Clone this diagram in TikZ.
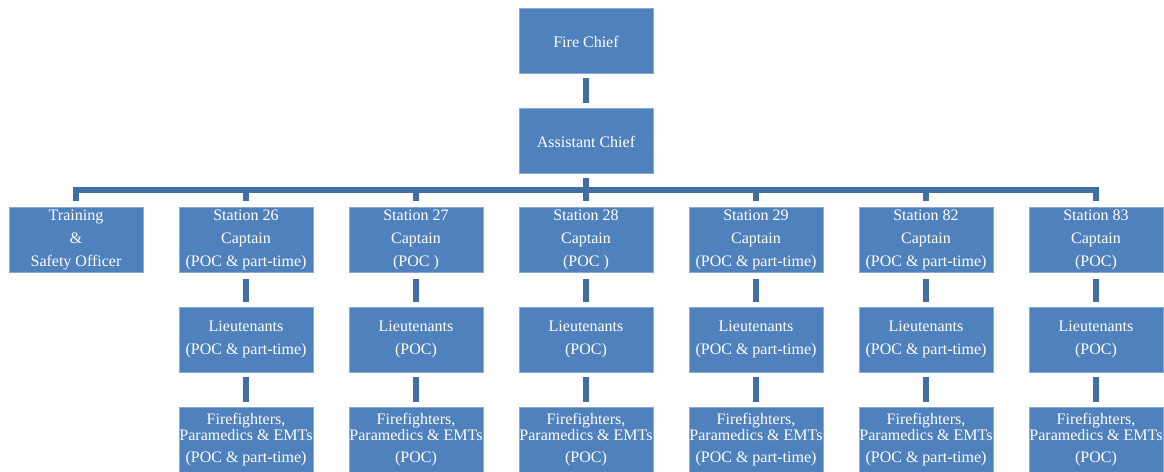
\documentclass[tikz,border=0pt]{standalone}
\usepackage{fontspec}
\setmainfont{Liberation Serif}
\definecolor{boxblue}{HTML}{4F81BD}
\definecolor{boxedge}{HTML}{8AABD6}
\definecolor{linkblue}{HTML}{416FA3}
\begin{document}
\begin{tikzpicture}[x=1pt,y=-1pt,
  orgbox/.style={rectangle, fill=boxblue, draw=boxedge, line width=0.6pt,
    minimum width=134pt, minimum height=65pt, inner sep=0pt, text=white,
    align=center, font=\fontsize{16}{23}\selectfont,
    execute at begin node={\rule{0pt}{14.5pt}}},
  link/.style={draw=linkblue, line width=5.5pt},
  crew/.style={orgbox}]
\useasboundingbox (0,0) rectangle (1164,471);
\clip (0,0) rectangle (1164,471);

% command staff
\node[orgbox] (fc) at (586,40.5) {Fire Chief};
\node[orgbox] (ac) at (586,140.5) {Assistant Chief};

% first tier
\node[orgbox] (tso) at (76,240) {Training\\ \&\\ Safety Officer};
\node[orgbox] (s26) at (246,240) {Station 26\\ Captain\\ (POC \& part-time)};
\node[orgbox] (s27) at (416,240) {Station 27\\ Captain\\ (POC )};
\node[orgbox] (s28) at (586,240) {Station 28\\ Captain\\ (POC )};
\node[orgbox] (s29) at (756,240) {Station 29\\ Captain\\ (POC \& part-time)};
\node[orgbox] (s82) at (926,240) {Station 82\\ Captain\\ (POC \& part-time)};
\node[orgbox] (s83) at (1096,240) {Station 83\\ Captain\\ (POC)};

% lieutenants
\node[orgbox] (l26) at (246,339.5) {Lieutenants\\ (POC \& part-time)};
\node[orgbox] (l27) at (416,339.5) {Lieutenants\\ (POC)};
\node[orgbox] (l28) at (586,339.5) {Lieutenants\\ (POC)};
\node[orgbox] (l29) at (756,339.5) {Lieutenants\\ (POC \& part-time)};
\node[orgbox] (l82) at (926,339.5) {Lieutenants\\ (POC \& part-time)};
\node[orgbox] (l83) at (1096,339.5) {Lieutenants\\ (POC)};

% firefighters
\node[crew] (f26) at (246,439.5) {Firefighters,\\[-7pt] Paramedics \& EMTs\\[-1pt] (POC \& part-time)};
\node[crew] (f27) at (416,439.5) {Firefighters,\\[-7pt] Paramedics \& EMTs\\[-1pt] (POC)};
\node[crew] (f28) at (586,439.5) {Firefighters,\\[-7pt] Paramedics \& EMTs\\[-1pt] (POC)};
\node[crew] (f29) at (756,439.5) {Firefighters,\\[-7pt] Paramedics \& EMTs\\[-1pt] (POC \& part-time)};
\node[crew] (f82) at (926,439.5) {Firefighters,\\[-7pt] Paramedics \& EMTs\\[-1pt] (POC \& part-time)};
\node[crew] (f83) at (1096,439.5) {Firefighters,\\[-7pt] Paramedics \& EMTs\\[-1pt] (POC)};

% connectors
\coordinate (bar) at (586,190);
\draw[link, shorten <=5pt, shorten >=5pt] (fc) -- (ac);
\draw[link, shorten <=5pt] (ac) -- (bar);
\draw[link, line join=miter, shorten <=6pt, shorten >=6pt] (tso.north) |- (bar) -| (s83.north);
\foreach \n in {s26,s27,s28,s29,s82}
  \draw[link, shorten >=6pt] (bar -| \n.north) -- (\n.north);
\foreach \a/\b in {s26/l26,s27/l27,s28/l28,s29/l29,s82/l82,s83/l83}
  \draw[link, shorten <=6pt, shorten >=5pt] (\a) -- (\b);
\foreach \a/\b in {l26/f26,l27/f27,l28/f28,l29/f29,l82/f82,l83/f83}
  \draw[link, shorten <=5pt, shorten >=5pt] (\a) -- (\b);
\end{tikzpicture}
\end{document}
